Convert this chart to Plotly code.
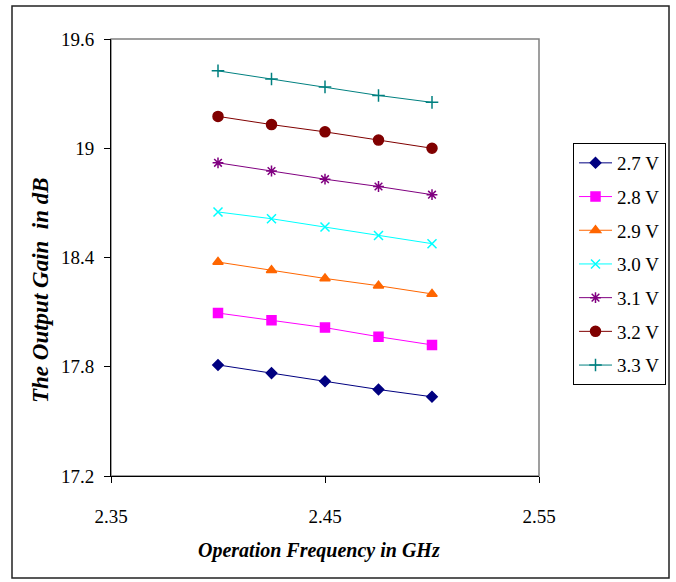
import plotly.graph_objects as go

freq = [2.40, 2.425, 2.45, 2.475, 2.50]
g27 = [17.81, 17.765, 17.72, 17.675, 17.635]
g28 = [18.095, 18.055, 18.015, 17.965, 17.92]
g29 = [18.375, 18.33, 18.285, 18.245, 18.2]
g30 = [18.65, 18.613, 18.567, 18.521, 18.476]
g31 = [18.92, 18.875, 18.83, 18.79, 18.745]
g32 = [19.175, 19.13, 19.09, 19.045, 19.0]
g33 = [19.425, 19.38, 19.337, 19.29, 19.252]

names = ["2.7 V", "2.8 V", "2.9 V", "3.0 V", "3.1 V", "3.2 V", "3.3 V"]
series = [g27, g28, g29, g30, g31, g32, g33]
colors = ["#000080", "#FF00FF", "#FF6600", "#00FFFF", "#800080", "#800000", "#008080"]
symbols = ["diamond", "square", "triangle-up", "x-thin-open", "asterisk-open", "circle", "cross-thin-open"]
sizes = [8, 9, 9, 9, 9, 10, 9]

xticks = [2.35, 2.45, 2.55]
yticks = [17.2, 17.8, 18.4, 19.0, 19.6]
ytext = ["17.2", "17.8", "18.4", "19", "19.6"]

FONT = "Liberation Serif, Times New Roman, serif"

fig = go.Figure()
for n, s, c, sym, sz in zip(names, series, colors, symbols, sizes):
    fig.add_trace(go.Scatter(
        x=freq, y=s, name=n, mode="lines+markers",
        line=dict(color=c, width=1),
        marker=dict(symbol=sym, size=sz, color=c, line=dict(color=c, width=1.5)),
        legendgroup=n,
    ))

L, R, T, B = 111, 137, 39, 106
W, H = 676, 582
pw, ph = W - L - R, H - T - B

def px(x):
    return (x - L) / pw

def py(y):
    return (H - B - y) / ph

fig.update_layout(
    width=W, height=H,
    margin=dict(l=L, r=R, t=T, b=B),
    paper_bgcolor="white", plot_bgcolor="white",
    font=dict(family=FONT, size=18, color="black"),
    showlegend=True,
    legend=dict(
        xref="container", yref="container",
        x=573 / W, y=1 - 143 / H, xanchor="left", yanchor="top",
        bordercolor="black", borderwidth=1, bgcolor="white",
        font=dict(family=FONT, size=19, color="black"),
        tracegroupgap=6, itemwidth=33,
    ),
    xaxis=dict(
        range=[2.35, 2.55], tickvals=xticks, ticktext=["2.35", "2.45", "2.55"],
        showgrid=False, zeroline=False, showline=True, linecolor="black", linewidth=1,
        ticks="outside", ticklen=6, tickcolor="black", ticklabelstandoff=17,
        tickfont=dict(family=FONT, size=19, color="black"),
    ),
    yaxis=dict(
        range=[17.2, 19.6], tickvals=yticks, ticktext=ytext,
        showgrid=False, zeroline=False, showline=True, linecolor="black", linewidth=1,
        ticks="outside", ticklen=6, tickcolor="black", ticklabelstandoff=6,
        tickfont=dict(family=FONT, size=19, color="black"),
    ),
    shapes=[
        dict(type="rect", xref="paper", yref="paper", x0=0, x1=1, y0=0, y1=1,
             line=dict(color="#808080", width=1.5), layer="below"),
        dict(type="rect", xref="paper", yref="paper",
             x0=px(12), x1=px(669), y0=py(578), y1=py(6),
             line=dict(color="#222222", width=1.5), layer="below"),
    ],
    annotations=[
        dict(text="<b><i>Operation Frequency in GHz</i></b>", xref="paper", yref="paper",
             x=px(319), y=py(550), xanchor="center", yanchor="middle", showarrow=False,
             font=dict(family=FONT, size=20, color="black")),
        dict(text="<b><i>The Output Gain  in dB</i></b>", xref="paper", yref="paper",
             x=px(40), y=py(290), xanchor="center", yanchor="middle", showarrow=False,
             textangle=-90, font=dict(family=FONT, size=23, color="black")),
    ],
)

fig.write_html("out.html")
